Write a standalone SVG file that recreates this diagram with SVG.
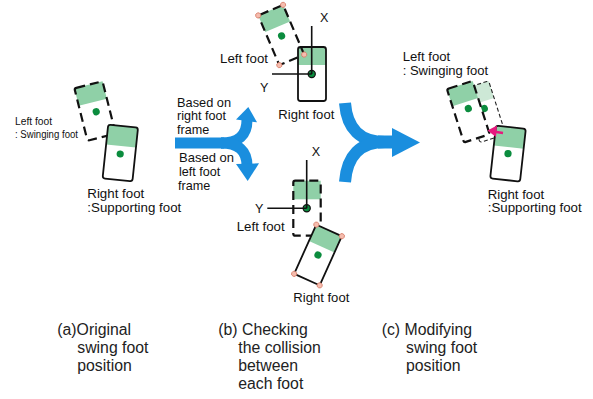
<svg xmlns="http://www.w3.org/2000/svg" width="593" height="399" viewBox="0 0 593 399">
<style>
.fs{fill:none;stroke:#111;stroke-width:1.8;stroke-linejoin:round}
.fd{fill:none;stroke:#111;stroke-width:2.2;stroke-dasharray:9 5;stroke-linejoin:round}
.fl{fill:none;stroke:#222;stroke-width:1.1;stroke-dasharray:4 2.5}
.g{fill:#8fd0a7}
.gl{fill:#cde8d6}
.w{fill:#fff}
.dot{fill:#0b8c3e}
.dotk{fill:#0b8c3e;stroke:#111;stroke-width:1.2}
.c{fill:#f5bcae;stroke:#d8806c;stroke-width:0.8}
.ax{stroke:#111;stroke-width:1.6;fill:none}
.bl{fill:none;stroke:#1a8ede}
.bf{fill:#1a8ede}
text{font-family:"Liberation Sans",Arial,sans-serif;fill:#111}
.t{font-size:12.6px}
.s{font-size:10px}
.cap{font-size:15.8px;fill:#222}
</style>

<!-- Panel (a) -->
<g id="a-left-foot" transform="translate(95,111) rotate(-14)">
<rect x="-14.5" y="-27" width="29" height="18" class="g"/>
<circle cx="1" cy="1" r="3.6" class="dot"/>
<rect x="-14.5" y="-27" width="29" height="54" rx="2" class="fd"/>
</g>
<g id="a-right-foot" transform="translate(120.3,153) rotate(6)">
<rect x="-15" y="-27" width="30" height="20" class="g"/>
<circle cx="0" cy="1" r="3.6" class="dot"/>
<rect x="-15" y="-27" width="30" height="54" rx="2.5" class="fs"/>
</g>
<g id="a-labels">
<text class="s" x="15" y="124.5" textLength="37" lengthAdjust="spacingAndGlyphs">Left foot</text>
<text class="s" x="15" y="137.8" textLength="63" lengthAdjust="spacingAndGlyphs">: Swinging foot</text>
<text class="t" x="87.3" y="198.2" textLength="57" lengthAdjust="spacingAndGlyphs">Right foot</text>
<text class="t" x="87.3" y="212.2" textLength="94" lengthAdjust="spacingAndGlyphs">:Supporting foot</text>
</g>

<!-- Connectors -->
<g id="connectors">
<path class="bl" stroke-width="11" d="M175,143 H224"/>
<path class="bl" stroke-width="11" d="M221,143 Q247,143 247,120"/>
<path class="bl" stroke-width="11" d="M221,143 Q247,143 247,166"/>
<polygon class="bf" points="248.3,107 257,122.3 236,119.5"/>
<polygon class="bf" points="247.7,181 236,164 259,163.3"/>
<path class="bl" stroke-width="12" d="M345,103 Q348,142 385,142"/>
<path class="bl" stroke-width="12" d="M345,182 Q348,142 385,142"/>
<path class="bl" stroke-width="13" d="M378,142 H394"/>
<polygon class="bf" points="392,128 420,142.5 392,157"/>
</g>
<g id="arrow-labels">
<text class="t" x="177" y="106.5" textLength="54" lengthAdjust="spacingAndGlyphs">Based on</text>
<text class="t" x="177" y="120.3">right foot</text>
<text class="t" x="177" y="134">frame</text>
<text class="t" x="179" y="162.4" textLength="55" lengthAdjust="spacingAndGlyphs">Based on</text>
<text class="t" x="179" y="176">left foot</text>
<text class="t" x="178" y="189.6">frame</text>
</g>

<!-- Panel (b) top -->
<g id="b-top-right-foot">
<rect x="298" y="47" width="28" height="18" class="g"/>
<rect x="298" y="47" width="28" height="54" rx="2.5" class="fs"/>
</g>
<g id="b-top-left-foot" transform="translate(281.2,35) rotate(-23)">
<rect x="-13.5" y="-27" width="27" height="18" class="g"/>
<circle cx="0" cy="1" r="3.6" class="dot"/>
<rect x="-13.5" y="-27" width="27" height="54" rx="2" class="fd"/>
<circle cx="-13.5" cy="-27" r="2.6" class="c"/>
<circle cx="13.5" cy="-27" r="2.6" class="c"/>
<circle cx="13.5" cy="27" r="2.6" class="c"/>
<circle cx="-13.5" cy="27" r="2.6" class="c"/>
</g>
<g id="b-top-axes">
<circle cx="311.7" cy="74" r="3.6" class="dotk"/>
<path class="ax" d="M311.7,74 V26 M311.7,74 H272"/>
<text class="t" x="320" y="21.7">X</text>
<text class="t" x="260" y="91.7">Y</text>
<text class="t" x="220" y="63" textLength="48" lengthAdjust="spacingAndGlyphs">Left foot</text>
<text class="t" x="278.3" y="118.5" textLength="56" lengthAdjust="spacingAndGlyphs">Right foot</text>
</g>

<!-- Panel (b) bottom -->
<g id="b-bottom-left-foot">
<rect x="293.3" y="180.7" width="27.4" height="18.6" class="g"/>
<rect x="293.3" y="180.7" width="27.4" height="55" rx="2" class="fd"/>
</g>
<g id="b-bottom-right-foot" transform="translate(318,255) rotate(24.3)">
<rect x="-14" y="-27" width="28" height="18" class="g"/>
<circle cx="0" cy="0" r="3.6" class="dot"/>
<rect x="-14" y="-27" width="28" height="54" rx="2" class="fs"/>
<circle cx="-14" cy="-27" r="2.6" class="c"/>
<circle cx="14" cy="-27" r="2.6" class="c"/>
<circle cx="14" cy="27" r="2.6" class="c"/>
<circle cx="-14" cy="27" r="2.6" class="c"/>
</g>
<g id="b-bottom-axes">
<circle cx="306.7" cy="208.3" r="3.6" class="dotk"/>
<path class="ax" d="M306.7,208.3 V160 M306.7,208.3 H267.3"/>
<text class="t" x="311.7" y="156">X</text>
<text class="t" x="255" y="212.7">Y</text>
<text class="t" x="236.7" y="231" textLength="48" lengthAdjust="spacingAndGlyphs">Left foot</text>
<text class="t" x="293.3" y="301.5" textLength="56" lengthAdjust="spacingAndGlyphs">Right foot</text>
</g>

<!-- Panel (c) -->
<g id="c-modified-foot" transform="translate(484.3,111.7) rotate(-17.7)">
<rect x="-13.5" y="-28" width="27" height="18" class="gl"/>
<circle cx="1" cy="-3" r="3.6" class="dot"/>
<rect x="-13.5" y="-28" width="27" height="56" rx="2" class="fl"/>
</g>
<g id="c-original-foot" transform="translate(468.3,111.7) rotate(-17.7)">
<rect x="-13.5" y="-28" width="27" height="56" class="w"/>
<rect x="-13.5" y="-28" width="27" height="18" class="g"/>
<circle cx="1" cy="-3" r="3.6" class="dot"/>
<rect x="-13.5" y="-28" width="27" height="56" rx="2" class="fd"/>
</g>
<g id="c-right-foot" transform="translate(508,153.6) rotate(6.3)">
<rect x="-15" y="-26.5" width="30" height="20" class="g"/>
<circle cx="0" cy="0" r="3.6" class="dot"/>
<rect x="-15" y="-26.5" width="30" height="53" rx="2.5" class="fs"/>
</g>
<g id="c-shift-arrow">
<path d="M503,133 L493,131.5" stroke="#e6197e" stroke-width="2.4" fill="none"/>
<polygon points="487.5,130.5 497,125.5 496,137" fill="#e6197e"/>
</g>
<g id="c-labels">
<text class="t" x="402.7" y="61.3" textLength="47.5" lengthAdjust="spacingAndGlyphs">Left foot</text>
<text class="t" x="402.7" y="75.2" textLength="85.5" lengthAdjust="spacingAndGlyphs">: Swinging foot</text>
<text class="t" x="487.7" y="198.6" textLength="56.5" lengthAdjust="spacingAndGlyphs">Right foot</text>
<text class="t" x="487.7" y="212.4" textLength="94" lengthAdjust="spacingAndGlyphs">:Supporting foot</text>
</g>

<!-- Captions -->
<g id="captions">
<text class="cap" x="57.3" y="334.5">(a)Original</text>
<text class="cap" x="77.3" y="352.8">swing foot</text>
<text class="cap" x="77.3" y="371.1">position</text>
<text class="cap" x="218.3" y="334.5">(b) Checking</text>
<text class="cap" x="238.3" y="352.8">the collision</text>
<text class="cap" x="238.3" y="371.1">between</text>
<text class="cap" x="238.3" y="389.4">each foot</text>
<text class="cap" x="381.7" y="334.5">(c) Modifying</text>
<text class="cap" x="406" y="352.8">swing foot</text>
<text class="cap" x="406" y="371.1">position</text>
</g>
</svg>
